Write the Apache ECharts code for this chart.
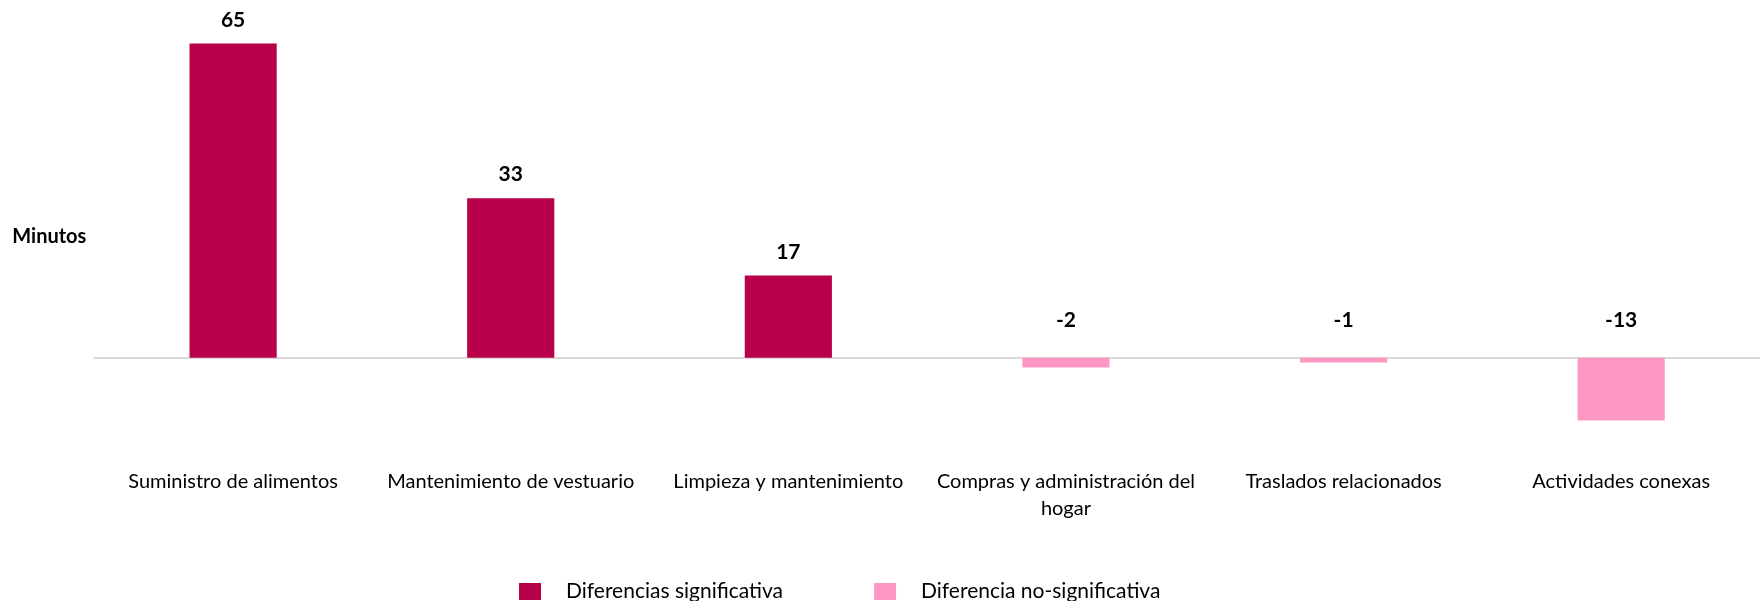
<!DOCTYPE html>
<html>
<head>
<meta charset="utf-8">
<title>Diferencias en minutos</title>
<script src="https://cdn.jsdelivr.net/npm/echarts@6/dist/echarts.min.js"></script>
<style>
  html, body { margin: 0; padding: 0; background: #ffffff; }
  #chart { width: 1760px; height: 601px; }
</style>
</head>
<body>
<div id="chart"></div>
<script>
// Categories of household work
const categories = [
  'Suministro de alimentos',
  'Mantenimiento de vestuario',
  'Limpieza y mantenimiento',
  'Compras y administración del\nhogar',
  'Traslados relacionados',
  'Actividades conexas'
];
// Difference in minutes per category
const values = [65, 33, 17, -2, -1, -13];
// Whether the difference is statistically significant
const significant = [true, true, true, false, false, false];

const seriesNames = ['Diferencias significativa', 'Diferencia no-significativa'];
const colors = ['#B8004B', '#FF97C3'];
const FONT = 'Lato, "Noto Sans", sans-serif';

function labelFor(v) {
  return {
    show: true,
    position: 'top',
    distance: v >= 0 ? 13 : 27,
    formatter: String(v),
    color: '#000000',
    fontWeight: 'bold',
    fontSize: 21,
    fontFamily: FONT
  };
}

function seriesData(flag) {
  return values.map((v, i) =>
    significant[i] === flag ? { value: v, label: labelFor(v) } : '-'
  );
}

const chart = echarts.init(document.getElementById('chart'));
chart.setOption({
  animation: false,
  backgroundColor: '#ffffff',
  textStyle: { fontFamily: FONT },
  grid: { left: 94.3, right: -6.3, top: 19.3, bottom: 146.6, containLabel: false },
  xAxis: [
    {
      type: 'category',
      data: categories,
      position: 'bottom',
      axisLine: { show: false, onZero: false },
      axisTick: { show: false },
      axisLabel: {
        interval: 0,
        margin: 14,
        color: '#000000',
        fontSize: 20,
        lineHeight: 27,
        fontFamily: FONT
      }
    },
    {
      type: 'category',
      data: categories,
      position: 'top',
      axisLine: { show: true, onZero: true, lineStyle: { color: '#D9D9D9', width: 2 } },
      axisTick: { show: false },
      axisLabel: { show: false }
    }
  ],
  yAxis: {
    type: 'value',
    min: -20,
    max: 70,
    interval: 10,
    name: 'Minutos',
    nameLocation: 'middle',
    show: true,
    axisLine: { show: false },
    axisTick: { show: false },
    axisLabel: { show: false },
    splitLine: { show: false },
    nameRotate: 0,
    nameGap: 0,
    nameTextStyle: {
      color: '#000000',
      fontWeight: 'bold',
      fontSize: 20,
      fontFamily: FONT,
      align: 'left',
      padding: [11, 0, 0, -82]
    }
  },
  legend: {
    left: 514,
    top: 576,
    itemWidth: 22,
    itemHeight: 17,
    itemGap: 91,
    icon: 'rect',
    textStyle: { color: '#000000', fontSize: 21, fontFamily: FONT, padding: [0, 0, 0, 20] },
    data: seriesNames
  },
  series: seriesNames.map((name, k) => ({
    name: name,
    type: 'bar',
    stack: 'diff',
    xAxisIndex: 0,
    barWidth: '31.4%',
    itemStyle: { color: colors[k] },
    data: seriesData(k === 0)
  }))
});
</script>
</body>
</html>
